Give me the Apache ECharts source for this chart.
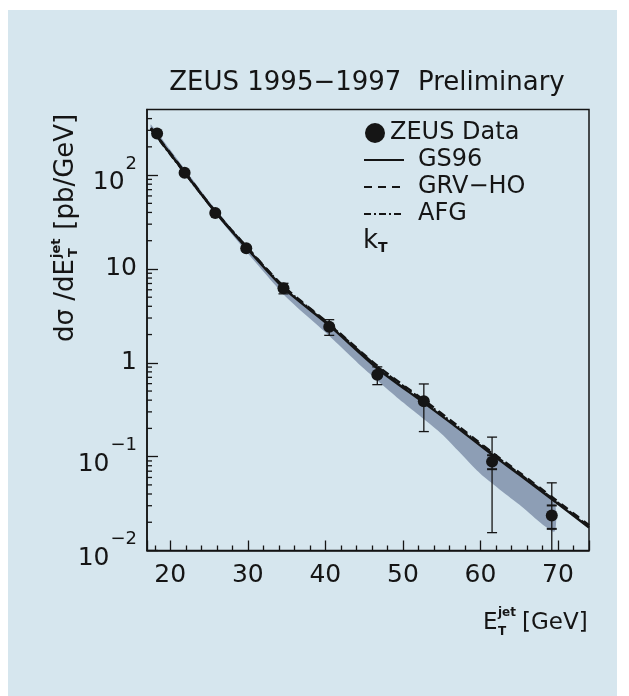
<!DOCTYPE html>
<html><head><meta charset="utf-8">
<script src="https://cdn.jsdelivr.net/npm/echarts@6/dist/echarts.min.js"></script>
<style>html,body{margin:0;padding:0;background:#fff}#c{width:629px;height:696px}</style>
</head><body><div id="c"></div>
<script>
// ZEUS data points
const dataET = [18.3, 21.85, 25.8, 29.8, 34.6, 40.5, 46.7, 52.7, 61.5, 69.2];
const dataXS = [278, 106, 39.5, 16.6, 6.23, 2.42, 0.745, 0.39, 0.0885, 0.0236];
const statErr = [10, 3, 1, 0.4, 0.15, 0.06, 0.03, 0.02, 0.015, 0.0066];
const totErr = [15, 5, 2, 0.8, 0.8, 0.46, 0.16, 0.205, 0.073, 0.029];

// NLO curves
const curveET = [17.5, 21.8, 25.8, 29.8, 34.6, 40.5, 46.7, 52.7, 57.0, 61.5, 65.0, 69.1, 74.0];
const gs96  = [314, 108, 40.4, 16.9, 6.28, 2.5, 0.87, 0.375, 0.204, 0.105, 0.0644, 0.0357, 0.0176];
const grvho = [318, 110, 41.2, 17.4, 6.55, 2.6, 0.93, 0.40, 0.216, 0.111, 0.068, 0.0378, 0.0186];
const afg   = [310, 107, 40.8, 17.2, 6.45, 2.55, 0.91, 0.39, 0.21, 0.108, 0.066, 0.0366, 0.018];

// kT band
const bandET   = [17.5, 20, 25, 30, 35, 40, 45, 50, 55, 60, 65, 69.5];
const bandLow  = [306, 164, 46.8, 14.7, 4.97, 2.12, 0.865, 0.379, 0.1745, 0.0659, 0.0309, 0.0158];
const bandHigh = [346, 186, 52.8, 17.0, 6.05, 2.70, 1.16, 0.548, 0.271, 0.131, 0.0644, 0.0337];

// axis
const yMinorTicks = [0.02,0.03,0.04,0.05,0.06,0.07,0.08,0.09,
  0.2,0.3,0.4,0.5,0.6,0.7,0.8,0.9, 2,3,4,5,6,7,8,9,
  20,30,40,50,60,70,80,90, 200,300,400];
const yTickLabels = {'0.01': ['10', '−2'], '0.1': ['10', '−1'], '1': ['1', ''], '10': ['10', ''], '100': ['10', '2']};

const FONT = 'DejaVu Sans';
const INK = '#151515';
const X_MIN = 17, X_MAX = 74, Y_MIN = 0.01, Y_MAX = 500;

const chart = echarts.init(document.getElementById('c'));

const option = {
  animation: false,
  backgroundColor: '#d6e6ee',
  title: {
    text: 'ZEUS 1995−1997  Preliminary',
    left: 367, top: 70, textAlign: 'center', padding: 0,
    textStyle: {fontFamily: FONT, fontSize: 26, fontWeight: 'normal', color: INK}
  },
  grid: {left: 147, top: 109.5, right: 40, bottom: 145.5, show: true,
         borderColor: INK, borderWidth: 1.5, backgroundColor: 'transparent',
         outerBoundsMode: 'none', containLabel: false},
  legend: [
    {data: ['ZEUS Data'], left: 365, top: 121, padding: 0, itemWidth: 20, itemHeight: 20,
     textStyle: {fontFamily: FONT, fontSize: 24, color: INK}},
    {data: ['GS96', 'GRV−HO', 'AFG'], orient: 'vertical', left: 363, top: 148, padding: 0,
     itemWidth: 40, itemHeight: 14, itemGap: 3,
     itemStyle: {opacity: 0},
     textStyle: {fontFamily: FONT, fontSize: 24, color: INK, padding: [0, 0, 0, 9]}}
  ],
  xAxis: {
    type: 'value', min: X_MIN, max: X_MAX, splitNumber: 5,
    axisLine: {show: true, lineStyle: {color: INK, width: 1.5}},
    axisTick: {show: true, inside: true, length: 10, lineStyle: {color: INK, width: 1.3}},
    minorTick: {show: true, splitNumber: 5, length: 5, lineStyle: {color: INK, width: 1.3}},
    splitLine: {show: false},
    axisLabel: {show: true, showMinLabel: false, showMaxLabel: false, margin: 12,
      fontFamily: FONT, fontSize: 25, color: INK,
      formatter: v => (Math.abs(v % 10) < 1e-9 ? String(v) : '')}
  },
  yAxis: {
    type: 'log', logBase: 10, min: Y_MIN, max: Y_MAX,
    axisLine: {show: true, lineStyle: {color: INK, width: 1.5}},
    axisTick: {show: true, inside: true, length: 11, lineStyle: {color: INK, width: 1.3}},
    minorTick: {show: false},
    splitLine: {show: false},
    axisLabel: {show: true, showMinLabel: true, showMaxLabel: false, margin: 10,
      fontFamily: FONT, color: INK,
      formatter: v => {
        const key = String(Number(Number(v).toPrecision(6)));
        const lab = yTickLabels[key];
        if (!lab) return '';
        return '{b|' + lab[0] + '}' + (lab[1] ? '{sup|' + lab[1] + '}' : '');
      },
      rich: {
        b: {fontFamily: FONT, fontSize: 25, color: INK, verticalAlign: 'bottom'},
        sup: {fontFamily: FONT, fontSize: 18, color: INK, verticalAlign: 'bottom', padding: [0, 0, 22, 1]}
      }
    }
  },
  series: [
    {
      name: 'kT', type: 'custom', z: 1, silent: true,
      data: bandET.map((e, i) => [e, bandLow[i], bandHigh[i]]),
      encode: {x: 0, y: [1, 2]},
      renderItem: (params, api) => {
        if (params.dataIndex !== 0) return null;
        const pts = [];
        for (let i = 0; i < bandET.length; i++) pts.push(api.coord([bandET[i], bandHigh[i]]));
        for (let i = bandET.length - 1; i >= 0; i--) pts.push(api.coord([bandET[i], bandLow[i]]));
        return {type: 'polygon', shape: {points: pts, smooth: 0.2},
                style: {fill: 'rgba(100,117,148,0.64)', stroke: null}};
      }
    },
    {
      name: 'yMinor', type: 'custom', z: 5, silent: true,
      data: yMinorTicks.map(v => [X_MIN, v]),
      encode: {x: 0, y: 1},
      renderItem: (params, api) => {
        const p = api.coord([X_MIN, api.value(1)]);
        return {type: 'line', shape: {x1: p[0], y1: p[1], x2: p[0] + 5, y2: p[1]},
                style: {stroke: INK, lineWidth: 1.3}};
      }
    },
    {name: 'GS96', type: 'line', z: 3, symbol: 'none', smooth: 0.25,
     data: curveET.map((e, i) => [e, gs96[i]]),
     lineStyle: {color: INK, width: 2.4, type: 'solid'}, itemStyle: {color: INK}},
    {name: 'GRV−HO', type: 'line', z: 3, symbol: 'none', smooth: 0.25,
     data: curveET.map((e, i) => [e, grvho[i]]),
     lineStyle: {color: INK, width: 2.4, type: [8, 6]}, itemStyle: {color: INK}},
    {name: 'AFG', type: 'line', z: 3, symbol: 'none', smooth: 0.25,
     data: curveET.map((e, i) => [e, afg[i]]),
     lineStyle: {color: INK, width: 2.4, type: [7, 3, 2, 3]}, itemStyle: {color: INK}},
    {
      name: 'errors', type: 'custom', z: 4, silent: true,
      data: dataET.map((e, i) => [e, dataXS[i], statErr[i], totErr[i]]),
      encode: {x: 0, y: 1},
      renderItem: (params, api) => {
        const x = api.value(0), v = api.value(1), s = api.value(2), t = api.value(3);
        const hw = 5;
        const kids = [];
        const top = api.coord([x, v + t]);
        const lowV = v - t;
        const clamped = !(lowV > Y_MIN);
        const bot = api.coord([x, clamped ? Y_MIN : lowV]);
        const st = {stroke: INK, lineWidth: 1.3};
        kids.push({type: 'line', shape: {x1: top[0], y1: top[1], x2: bot[0], y2: bot[1]}, style: st});
        kids.push({type: 'line', shape: {x1: top[0] - hw, y1: top[1], x2: top[0] + hw, y2: top[1]}, style: st});
        if (!clamped) kids.push({type: 'line', shape: {x1: bot[0] - hw, y1: bot[1], x2: bot[0] + hw, y2: bot[1]}, style: st});
        const sTop = api.coord([x, v + s]);
        const sBot = api.coord([x, v - s]);
        kids.push({type: 'line', shape: {x1: sTop[0] - hw, y1: sTop[1], x2: sTop[0] + hw, y2: sTop[1]}, style: {stroke: INK, lineWidth: 2}});
        kids.push({type: 'line', shape: {x1: sBot[0] - hw, y1: sBot[1], x2: sBot[0] + hw, y2: sBot[1]}, style: {stroke: INK, lineWidth: 2}});
        return {type: 'group', children: kids};
      }
    },
    {name: 'ZEUS Data', type: 'scatter', z: 6, symbol: 'circle', symbolSize: 12,
     data: dataET.map((e, i) => [e, dataXS[i]]),
     itemStyle: {color: INK, opacity: 1}}
  ],
  graphic: [
    {type: 'rect', z: 100, shape: {x: 0, y: 0, width: 629, height: 10}, style: {fill: '#ffffff'}},
    {type: 'rect', z: 100, shape: {x: 0, y: 0, width: 8, height: 696}, style: {fill: '#ffffff'}},
    {type: 'rect', z: 100, shape: {x: 617, y: 0, width: 12, height: 696}, style: {fill: '#ffffff'}},
    // kT legend label
    {type: 'text', z: 100, x: 363, y: 241,
     style: {text: 'k{s|T}', fontFamily: FONT, fontSize: 26, fill: INK, verticalAlign: 'middle', align: 'left',
             rich: {s: {fontFamily: FONT, fontSize: 14, fontWeight: 'bold', fill: INK, padding: [14, 0, 0, 0]}}}},
    // y-axis title (rotated)
    {type: 'group', z: 100, x: 66, y: 342, rotation: Math.PI / 2, children: [
      {type: 'text', x: 0, y: 0, style: {text: 'dσ /dE', fontFamily: FONT, fontSize: 26, fill: INK, verticalAlign: 'middle', align: 'left'}},
      {type: 'text', x: 84, y: -9, style: {text: 'jet', fontFamily: FONT, fontSize: 13, fontWeight: 'bold', fill: INK, verticalAlign: 'middle', align: 'left'}},
      {type: 'text', x: 85, y: 8, style: {text: 'T', fontFamily: FONT, fontSize: 13, fontWeight: 'bold', fill: INK, verticalAlign: 'middle', align: 'left'}},
      {type: 'text', x: 104, y: 0, style: {text: ' [pb/GeV]', fontFamily: FONT, fontSize: 26, fill: INK, verticalAlign: 'middle', align: 'left'}}
    ]},
    // x-axis title
    {type: 'group', z: 100, x: 483, y: 623, children: [
      {type: 'text', x: 0, y: 0, style: {text: 'E', fontFamily: FONT, fontSize: 23, fill: INK, verticalAlign: 'middle', align: 'left'}},
      {type: 'text', x: 15, y: -10, style: {text: 'jet', fontFamily: FONT, fontSize: 12, fontWeight: 'bold', fill: INK, verticalAlign: 'middle', align: 'left'}},
      {type: 'text', x: 15, y: 9, style: {text: 'T', fontFamily: FONT, fontSize: 12, fontWeight: 'bold', fill: INK, verticalAlign: 'middle', align: 'left'}},
      {type: 'text', x: 39, y: 0, style: {text: '[GeV]', fontFamily: FONT, fontSize: 23, fill: INK, verticalAlign: 'middle', align: 'left'}}
    ]}
  ]
};
chart.setOption(option);
</script>
</body></html>
